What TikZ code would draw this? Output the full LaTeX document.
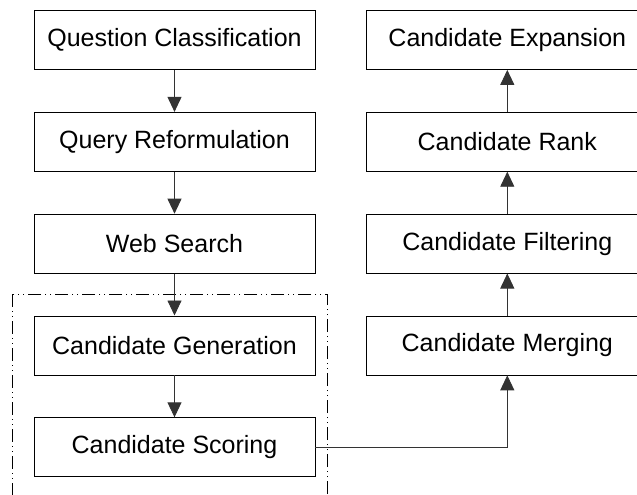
\documentclass[tikz,border=0pt]{standalone}
\usepackage{fontspec}
\setmainfont{Liberation Sans}
\usepackage{tikz}
\usetikzlibrary{positioning,arrows.meta}

\begin{document}
\begin{tikzpicture}[x=1pt,y=1pt,
		stagebox/.style={draw=black, line width=0.8pt, minimum width=281pt, minimum height=59pt, inner sep=0pt, font=\fontsize{25}{28}\selectfont},
		flow/.style={draw=black!80, line width=0.9pt, -{Triangle[width=14pt,length=15pt]}},
		node distance=42pt]
		\clip (0,0) rectangle (637,-495);
		
		% left column
		\node[stagebox] (qclass) at (174.5,-40) {Question Classification};
		\node[stagebox, below=of qclass] (qreform) {Query Reformulation};
		\node[stagebox, below=of qreform] (websearch) {Web Search};
		\node[stagebox, below=of websearch] (candgen) {Candidate Generation};
		\node[stagebox, below=of candgen] (candscore) {Candidate Scoring};
		
		% right column
		\node[stagebox, right=51pt of candgen] (candmerge) {Candidate Merging};
		\node[stagebox, above=of candmerge] (candfilter) {Candidate Filtering};
		\node[stagebox, above=of candfilter] (candrank) {Candidate Rank};
		\node[stagebox, above=of candrank] (candexp) {Candidate Expansion};
		
		\draw[black, line width=1pt, dash pattern=on 13pt off 4pt on 1pt off 4pt on 1pt off 4pt] (12,-294) rectangle (327,-520);
		
		\draw[flow] (qclass) -- (qreform);
		\draw[flow] (qreform) -- (websearch);
		\draw[flow] (websearch) -- (candgen);
		\draw[flow] (candgen) -- (candscore);
		\draw[flow] (candscore.east) -| (candmerge.south);
		\draw[flow] (candmerge) -- (candfilter);
		\draw[flow] (candfilter) -- (candrank);
		\draw[flow] (candrank) -- (candexp);
	\end{tikzpicture}
\end{document}
